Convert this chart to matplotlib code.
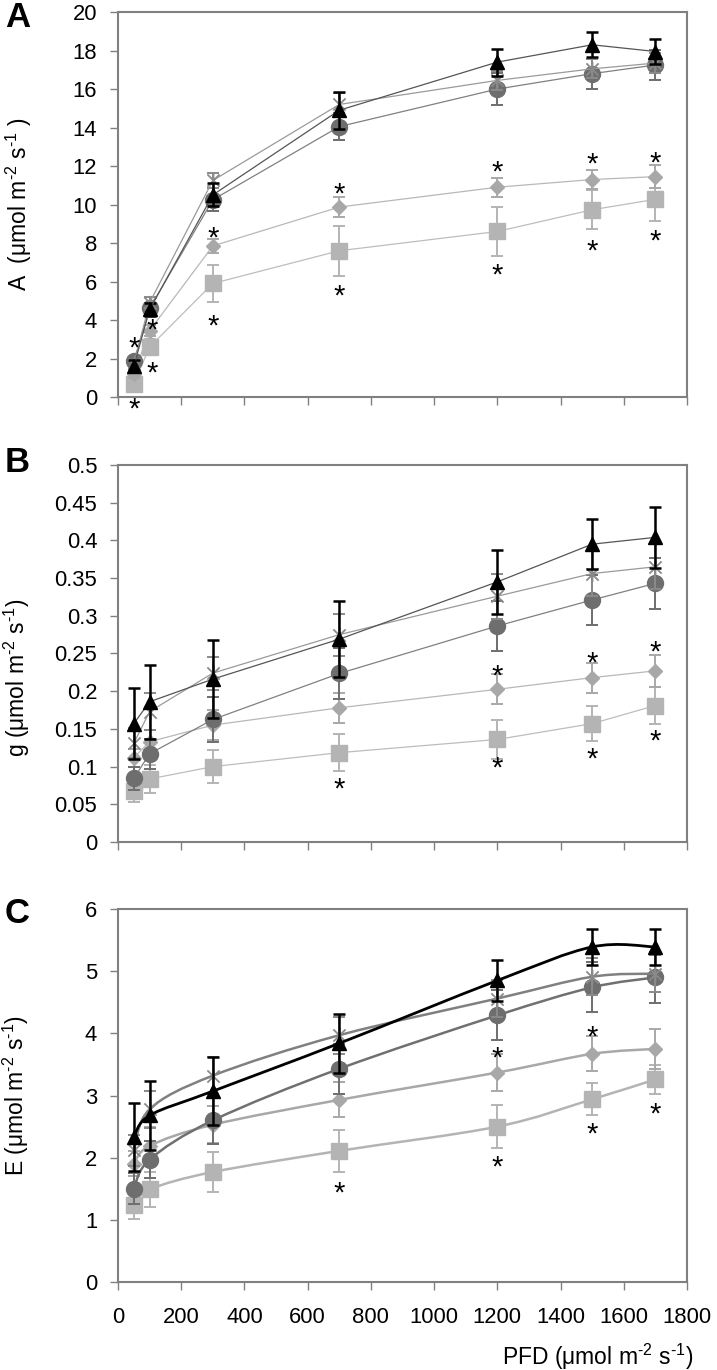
# Light response curves: A, g and E versus PFD (three stacked panels)
import numpy as np
import matplotlib.pyplot as plt
from matplotlib.path import Path
from matplotlib.patches import PathPatch
from matplotlib.transforms import offset_copy

plt.rcParams['font.family'] = ['Liberation Sans', 'DejaVu Sans']
plt.rcParams['mathtext.fontset'] = 'custom'
plt.rcParams['mathtext.rm'] = 'Liberation Sans'
plt.rcParams['mathtext.it'] = 'Liberation Sans:italic'

# ---- data ----
pfd = [50, 100, 300, 700, 1200, 1500, 1700]

# panel A : net assimilation
a_tri = [1.6, 4.55, 10.5, 14.9, 17.4, 18.3, 17.95]
a_tri_err = [0.3, 0.35, 0.6, 0.95, 0.7, 0.65, 0.65]
a_star = [1.7, 4.9, 11.25, 15.2, 16.45, 17.05, 17.35]
a_star_err = [0.2, 0.3, 0.4, 0.6, 0.5, 0.5, 0.5]
a_circ = [1.85, 4.6, 10.25, 14.05, 16.0, 16.8, 17.25]
a_circ_err = [0.2, 0.3, 0.6, 0.7, 0.83, 0.78, 0.78]
a_dia = [1.2, 3.45, 7.85, 9.87, 10.9, 11.3, 11.45]
a_dia_err = [0.2, 0.3, 0.35, 0.5, 0.5, 0.5, 0.6]
a_sq = [0.7, 2.6, 5.9, 7.6, 8.6, 9.73, 10.27]
a_sq_err = [0.3, 0.4, 0.95, 1.3, 1.27, 1.0, 1.1]
a_sig_x = [50, 50, 107, 107, 300, 300, 700, 700, 1200, 1200, 1500, 1500, 1700, 1700]
a_sig_y = [2.87, -0.3, 3.83, 1.6, 8.6, 4.0, 10.9, 5.6, 12.0, 6.67, 12.43, 7.9, 12.5, 8.43]

# panel B : stomatal conductance
b_tri = [0.157, 0.186, 0.216, 0.269, 0.345, 0.395, 0.404]
b_tri_err = [0.047, 0.049, 0.052, 0.05, 0.042, 0.033, 0.04]
b_star = [0.131, 0.173, 0.224, 0.275, 0.326, 0.356, 0.365]
b_star_err = [0.02, 0.025, 0.022, 0.028, 0.03, 0.03, 0.03]
b_circ = [0.0845, 0.117, 0.1625, 0.2235, 0.2865, 0.321, 0.343]
b_circ_err = [0.015, 0.02, 0.03, 0.034, 0.033, 0.033, 0.034]
b_dia = [0.112, 0.133, 0.155, 0.178, 0.2025, 0.218, 0.227]
b_dia_err = [0.012, 0.015, 0.02, 0.02, 0.02, 0.02, 0.021]
b_sq = [0.068, 0.0836, 0.1, 0.1185, 0.136, 0.157, 0.181]
b_sq_err = [0.015, 0.018, 0.022, 0.025, 0.026, 0.023, 0.025]
b_sig_x = [700, 1200, 1200, 1500, 1500, 1700, 1700]
b_sig_y = [0.0787, 0.229, 0.1065, 0.2458, 0.119, 0.26, 0.142]

# panel C : transpiration
c_tri = [2.33, 2.68, 3.07, 3.84, 4.85, 5.39, 5.39]
c_tri_err = [0.55, 0.55, 0.55, 0.47, 0.33, 0.29, 0.29]
c_star = [2.12, 2.78, 3.32, 3.97, 4.56, 4.91, 4.96]
c_star_err = [0.25, 0.3, 0.3, 0.3, 0.3, 0.3, 0.3]
c_circ = [1.5, 1.97, 2.6, 3.43, 4.29, 4.74, 4.9]
c_circ_err = [0.25, 0.3, 0.38, 0.4, 0.4, 0.4, 0.41]
c_dia = [1.9, 2.19, 2.53, 2.93, 3.37, 3.67, 3.75]
c_dia_err = [0.2, 0.3, 0.3, 0.28, 0.3, 0.28, 0.32]
c_sq = [1.24, 1.49, 1.77, 2.11, 2.5, 2.94, 3.26]
c_sq_err = [0.23, 0.28, 0.32, 0.34, 0.34, 0.26, 0.23]
c_sig_x = [700, 1200, 1200, 1500, 1500, 1700]
c_sig_y = [1.54, 3.7, 1.96, 4.05, 2.48, 2.8]

# excel-like "star" marker: an X with a vertical stroke
star_marker = Path([(0, -1), (0, 1), (-0.8, -0.8), (0.8, 0.8), (-0.8, 0.8), (0.8, -0.8)],
                   [Path.MOVETO, Path.LINETO] * 3)

# order = drawing order (last on top)
styles = [
    # key, marker, size, colour, line colour
    ('sq', 's', 11, '#b4b4b4', '#bdbdbd'),
    ('dia', 'D', 7.6, '#a8a8a8', '#b8b8b8'),
    ('circ', 'o', 11.5, '#6e6e6e', '#808080'),
    ('star', star_marker, 11, '#8a8a8a', '#9a9a9a'),
    ('tri', '^', 10.5, '#000000', '#555555'),
]
c_line_col = {'sq': '#b4b4b4', 'dia': '#a8a8a8', 'circ': '#707070',
              'star': '#808080', 'tri': '#000000'}


def smooth_path(x, y):
    # bezier curve through the points (like Excel smoothed lines)
    pts = np.column_stack([x, y]).astype(float)
    n = len(pts)
    verts = [pts[0]]
    codes = [Path.MOVETO]
    for i in range(n - 1):
        p0 = pts[i - 1] if i > 0 else pts[i]
        p1 = pts[i]
        p2 = pts[i + 1]
        p3 = pts[i + 2] if i + 2 < n else pts[i + 1]
        verts += [p1 + (p2 - p0) / 6, p2 - (p3 - p1) / 6, p2]
        codes += [Path.CURVE4] * 3
    return Path(verts, codes)


def draw_panel(ax, data, sig_x, sig_y, smooth=False):
    for z, (key, mk, ms, col, lcol) in enumerate(styles):
        y, err = data[key]
        lw_err = 1.8 if key == 'tri' else 1.4
        ax.errorbar(pfd, y, yerr=err, fmt='none', ecolor=col, elinewidth=lw_err,
                    capsize=4, capthick=lw_err, zorder=2 + z * 0.1)
        if smooth:
            lw = 2.0 if key == 'tri' else 1.8
            ax.add_patch(PathPatch(smooth_path(pfd, y), fill=False,
                                   edgecolor=c_line_col[key], lw=lw, zorder=2.05 + z * 0.1))
        else:
            ax.plot(pfd, y, color=lcol, lw=0.9, zorder=2.05 + z * 0.1)
        if key == 'star':
            ax.plot(pfd, y, ls='none', marker=mk, ms=ms, mfc='none', mec=col, mew=1.3,
                    zorder=2.08 + z * 0.1)
        else:
            ax.plot(pfd, y, ls='none', marker=mk, ms=ms, mfc=col, mec=col,
                    zorder=2.08 + z * 0.1)
    # significance asterisks
    tr = offset_copy(ax.transData, fig=ax.figure, y=-7, units='dots')
    for sx, sy in zip(sig_x, sig_y):
        ax.text(sx, sy, '*', transform=tr, ha='center', va='center',
                fontsize=21, color='black', clip_on=False, zorder=5)


fig = plt.figure(figsize=(7.17, 13.7), dpi=100)

ax_a = fig.add_axes([0.1646, 0.7102, 0.7936, 0.2810])
ax_b = fig.add_axes([0.1646, 0.3854, 0.7936, 0.2752])
ax_c = fig.add_axes([0.1646, 0.0642, 0.7936, 0.2723])

draw_panel(ax_a, {'tri': (a_tri, a_tri_err), 'star': (a_star, a_star_err),
                  'circ': (a_circ, a_circ_err), 'dia': (a_dia, a_dia_err),
                  'sq': (a_sq, a_sq_err)}, a_sig_x, a_sig_y)
draw_panel(ax_b, {'tri': (b_tri, b_tri_err), 'star': (b_star, b_star_err),
                  'circ': (b_circ, b_circ_err), 'dia': (b_dia, b_dia_err),
                  'sq': (b_sq, b_sq_err)}, b_sig_x, b_sig_y)
draw_panel(ax_c, {'tri': (c_tri, c_tri_err), 'star': (c_star, c_star_err),
                  'circ': (c_circ, c_circ_err), 'dia': (c_dia, c_dia_err),
                  'sq': (c_sq, c_sq_err)}, c_sig_x, c_sig_y, smooth=True)

ax_a.set_ylim(0, 20)
ax_a.set_yticks(np.arange(0, 21, 2))
ax_b.set_ylim(0, 0.5)
ax_b.set_yticks(np.arange(0, 0.501, 0.05))
ax_b.set_yticklabels(['0', '0.05', '0.1', '0.15', '0.2', '0.25', '0.3', '0.35', '0.4', '0.45', '0.5'])
ax_c.set_ylim(0, 6)
ax_c.set_yticks(np.arange(0, 7, 1))

for ax in (ax_a, ax_b, ax_c):
    ax.set_xlim(0, 1800)
    ax.set_xticks(np.arange(0, 1801, 200))
    for sp in ax.spines.values():
        sp.set_color('#808080')
        sp.set_linewidth(1.5)
    ax.tick_params(axis='both', direction='out', length=6, width=1.0, color='#808080',
                   labelsize=15.8, labelcolor='black')
    ax.tick_params(axis='y', pad=9)
    ax.tick_params(axis='x', pad=12)

ax_a.tick_params(axis='x', labelbottom=False)
ax_b.tick_params(axis='x', labelbottom=False)

unit = r'(μmol m$^{\text{-2}}$ s$^{\text{-1}}$'
ax_a.set_ylabel('A  ' + unit + ' )', fontsize=16.5)
ax_b.set_ylabel('g ' + unit + ')', fontsize=16.5)
ax_c.set_ylabel('E ' + unit + ')', fontsize=16.5)
ax_a.yaxis.set_label_coords(-0.175, 0.5)
ax_b.yaxis.set_label_coords(-0.178, 0.435)
ax_c.yaxis.set_label_coords(-0.18, 0.5)
for ax in (ax_a, ax_b, ax_c):
    ax.yaxis.label.set_va('center')

fig.text(693 / 717, 1 - 1357 / 1370, r'PFD (μmol m$^{\text{-2}}$ s$^{\text{-1}}$)',
         ha='right', va='center', fontsize=16.5)

# panel letters
fig.text(5 / 717, 1 - 27 / 1370, 'A', fontsize=25, fontweight='bold', va='baseline')
fig.text(5 / 717, 1 - 472 / 1370, 'B', fontsize=25, fontweight='bold', va='baseline')
fig.text(5 / 717, 1 - 923 / 1370, 'C', fontsize=25, fontweight='bold', va='baseline')

plt.savefig('out.png', dpi=100)
